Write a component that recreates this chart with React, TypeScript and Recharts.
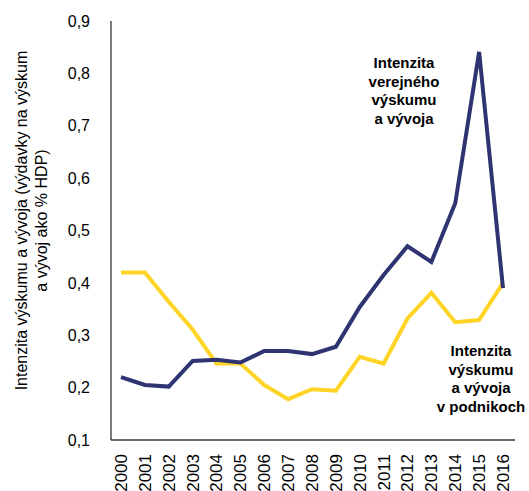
import React from 'react';
import { LineChart, Line, XAxis, YAxis, Label } from 'recharts';

const YEARS = ['2000', '2001', '2002', '2003', '2004', '2005', '2006', '2007', '2008', '2009', '2010', '2011', '2012', '2013', '2014', '2015', '2016'];
const PUBLIC_RD = [0.22, 0.205, 0.202, 0.251, 0.253, 0.248, 0.27, 0.27, 0.264, 0.278, 0.354, 0.415, 0.47, 0.44, 0.552, 0.841, 0.39];
const BUSINESS_RD = [0.42, 0.42, 0.364, 0.311, 0.246, 0.246, 0.205, 0.178, 0.197, 0.194, 0.259, 0.246, 0.332, 0.381, 0.325, 0.329, 0.4];
const Y_TICKS = [0.1, 0.2, 0.3, 0.4, 0.5, 0.6, 0.7, 0.8, 0.9];

const NAVY = '#2e3472';
const YELLOW = '#ffd426';
const FONT = '"Liberation Sans", Arial, sans-serif';

const data = YEARS.map((year, i) => ({ year, verejny: PUBLIC_RD[i], podniky: BUSINESS_RD[i] }));

const YearTick = ({ x, y, payload }: any) => (
  <text
    transform={`translate(${x},${y + 12}) rotate(-90)`}
    textAnchor="end"
    dy="0.35em"
    fontSize={17}
    fontFamily={FONT}
    fill="#000"
  >
    {payload.value}
  </text>
);

const AxisTitle = ({ viewBox }: any) => {
  const cy = viewBox.y + viewBox.height / 2 - 10;
  return (
    <g fontSize={16} fontFamily={FONT} fill="#000" textAnchor="middle">
      <text transform={`translate(21,${cy}) rotate(-90)`} dy="0.35em">
        Intenzita výskumu a vývoja (výdavky na výskum
      </text>
      <text transform={`translate(41,${cy}) rotate(-90)`} dy="0.35em">
        a vývoj ako % HDP)
      </text>
    </g>
  );
};

const Note = ({ x, y, lines }: { x: number; y: number; lines: string[] }) => (
  <text x={x} y={y} textAnchor="middle" fontSize={15} fontWeight="bold" fontFamily={FONT} fill="#000">
    {lines.map((l, i) => (
      <tspan key={i} x={x} dy={i === 0 ? 0 : 18.5}>{l}</tspan>
    ))}
  </text>
);

export default function App() {
  return (
    <div style={{ position: 'absolute', left: 0, top: 0, width: 529, height: 491, background: '#fff' }}>
      <LineChart width={529} height={491} data={data} margin={{ top: 21, right: 14, left: 0, bottom: 0 }}>
        <XAxis
          dataKey="year"
          height={51}
          padding={{ left: 10, right: 12 }}
          interval={0}
          tickLine={false}
          tickSize={0}
          tick={<YearTick />}
          axisLine={{ stroke: '#333', strokeWidth: 1.3 }}
        />
        <YAxis
          width={111}
          domain={[0.1, 0.9]}
          ticks={Y_TICKS}
          tickLine={false}
          tickSize={0}
          tickMargin={21}
          tickFormatter={(v: number) => v.toFixed(1).replace('.', ',')}
          tick={{ fontSize: 16, fontFamily: FONT, fill: '#000' }}
          axisLine={{ stroke: '#333', strokeWidth: 1.3 }}
        >
          <Label content={<AxisTitle />} />
        </YAxis>
        <Line type="linear" dataKey="podniky" stroke={YELLOW} strokeWidth={4} dot={false} isAnimationActive={false} />
        <Line type="linear" dataKey="verejny" stroke={NAVY} strokeWidth={4} dot={false} isAnimationActive={false} />
      </LineChart>
      <svg width={529} height={491} style={{ position: 'absolute', left: 0, top: 0, pointerEvents: 'none' }}>
        <Note x={404} y={68} lines={['Intenzita', 'verejného', 'výskumu', 'a vývoja']} />
        <Note x={481} y={356} lines={['Intenzita', 'výskumu', 'a vývoja', 'v podnikoch']} />
      </svg>
    </div>
  );
}
